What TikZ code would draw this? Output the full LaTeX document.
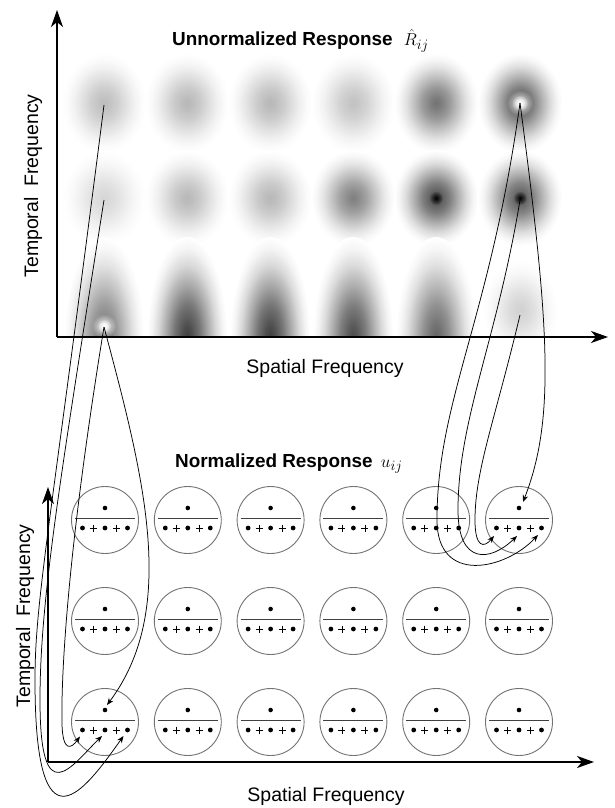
\documentclass[tikz,border=0pt]{standalone}
\usepackage{fontspec}
\setmainfont{Liberation Sans}
\usetikzlibrary{arrows.meta,calc,fadings}

\colorlet{blobc}{black}
\pgfdeclareradialshading[blobc]{blob}{\pgfpoint{0bp}{0bp}}{%
 color(0bp)=(blobc);
 color(3bp)=(blobc!92!white);
 color(8bp)=(blobc!72!white);
 color(13bp)=(blobc!45!white);
 color(18bp)=(blobc!20!white);
 color(22bp)=(blobc!6!white);
 color(25bp)=(white);
 color(50bp)=(white)}
\tikzfading[name=glowfade, inner color=transparent!0, outer color=transparent!100]

\newcommand\myblob[5]{\colorlet{blobc}{black!#5}\shade[shading=blob] (#1,#2) ellipse [x radius=#3pt, y radius=#4pt];}

\begin{document}
\begin{tikzpicture}[x=1pt,y=-1pt,
  ucirc/.style={circle, draw=black!55, line width=0.9pt, minimum size=67pt, inner sep=0pt},
  fracline/.style={draw=black!75, line width=1pt},
  plusline/.style={draw=black, line width=0.8pt},
  conn/.style={draw=black, line width=0.75pt, -{Stealth[length=7pt,width=5.5pt]}},
  axisarr/.style={draw=black, line width=1.8pt, -{Stealth[length=17pt,width=12pt,inset=5pt]}},
  titlef/.style={inner sep=0pt, font=\fontsize{18.9}{22}\selectfont\bfseries},
  labf/.style={inner sep=0pt, font=\fontsize{19.5}{23}\selectfont}]
\useasboundingbox (0,0) rectangle (615,808);
\fill[white] (0,0) rectangle (615,808);

% ---- unnormalized responses (blobs)
\myblob{104}{103}{42}{50}{26}
\myblob{187}{103}{42}{50}{28}
\myblob{270}{103}{42}{50}{28}
\myblob{353}{103}{42}{50}{24}
\myblob{436}{103}{42}{50}{55}
\myblob{520}{103}{42}{50}{68}
\myblob{104}{198}{42}{48}{16}
\myblob{187}{198}{42}{48}{28}
\myblob{270}{198}{42}{48}{28}
\myblob{353}{198}{42}{48}{50}
\myblob{436}{198}{42}{48}{70}
\myblob{520}{198}{42}{48}{66}
\begin{scope}
\clip (57,230) rectangle (615,337);
\myblob{104}{337}{40}{100}{55}
\myblob{187}{337}{40}{100}{75}
\myblob{270}{337}{40}{100}{75}
\myblob{353}{337}{40}{100}{70}
\myblob{436}{337}{40}{100}{60}
\myblob{520}{310}{38}{50}{18}
\end{scope}
\fill[white, path fading=glowfade] (104,326) circle (12pt);
\fill[white, path fading=glowfade] (104,326) circle (7pt);
\fill[white, path fading=glowfade] (520,103) circle (13pt);
\fill[white, path fading=glowfade] (520,103) circle (8pt);
\fill[black, path fading=glowfade] (436,198) circle (7pt);
\fill[black, path fading=glowfade] (520,198) circle (7pt);

% ---- axes
\coordinate (o1) at (57,337);
\coordinate (ytop1) at (57,10);
\coordinate (xend1) at (608,337);
\coordinate (o2) at (48,762);
\coordinate (ytop2) at (48,487);
\coordinate (xend2) at (594,762);
\draw[axisarr] (o1) -- (ytop1);
\draw[axisarr] (o1) -- (xend1);
\draw[axisarr] (o2) -- (ytop2);
\draw[axisarr] (o2) -- (xend2);

% ---- labels
\node[titlef, anchor=base west] (t1) at (172,46) {Unnormalized Response\hspace{6pt} \mdseries$\hat{R}_{ij}$};
\node[titlef, anchor=base west] (t2) at (175,467) {Normalized Response\hspace{3pt} \mdseries$u_{ij}$};
\node[labf, anchor=base] (sx1) at (325,373) {Spatial Frequency};
\node[labf, anchor=base] (sx2) at (326,801) {Spatial Frequency};
\node[labf, anchor=base, rotate=90] (ty1) at (38,186) {Temporal~~Frequency};
\node[labf, anchor=base, rotate=90] (ty2) at (30,616) {Temporal~~Frequency};

% ---- normalized responses (circles)
\foreach \r/\yy in {1/722,2/621,3/520}{
 \foreach \c/\xx in {1/105,2/187.8,3/270.6,4/353.4,5/436.2,6/519}{
  \node[ucirc] (u\r\c) at (\xx,\yy) {};
  \fill ($(u\r\c)+(0,-12)$) circle (2.3pt);
  \draw[fracline] ($(u\r\c)+(-30,-1.5)$) -- ($(u\r\c)+(30,-1.5)$);
  \foreach \dx in {-22.5,0,22.5}{\fill ($(u\r\c)+(\dx,8)$) circle (2.4pt);}
  \foreach \dx in {-11.5,11.5}{\draw[plusline] ($(u\r\c)+(\dx-3.5,8)$) -- ($(u\r\c)+(\dx+3.5,8)$) ($(u\r\c)+(\dx,4.5)$) -- ($(u\r\c)+(\dx,11.5)$);}
 }}

% ---- connector end points
\coordinate (b31) at (104,105);
\coordinate (b21) at (104,200);
\coordinate (b11) at (104,327);
\coordinate (b36) at (520,103);
\coordinate (b26) at (520,200);
\coordinate (b16) at (520,315);
\coordinate (n11) at ($(u11)+(2,-17)$);
\coordinate (d11a) at ($(u11)+(-25,14.5)$);
\coordinate (d11b) at ($(u11)+(-3,14)$);
\coordinate (d11c) at ($(u11)+(18.5,14)$);
\coordinate (n36) at ($(u36)+(4,-18)$);
\coordinate (d36a) at ($(u36)+(-25,16)$);
\coordinate (d36b) at ($(u36)+(-2,16)$);
\coordinate (d36c) at ($(u36)+(19,15)$);

% ---- connectors, left group
\draw[conn] (b11) .. controls (145,480) and (178,610) .. (n11);
\draw[conn] (b11) .. controls (66,560) and (61,680) .. (62,725) .. controls (63,752) and (71,749) .. (d11a);
\draw[conn] (b21) .. controls (60,480) and (40,600) .. (40,700) .. controls (40,815) and (72,765) .. (d11b);
\draw[conn] (b31) .. controls (50,530) and (35,600) .. (35,680) .. controls (35,860) and (85,790) .. (d11c);
% ---- connectors, right group
\draw[conn] (b36) .. controls (550,330) and (555,420) .. (n36);
\draw[conn] (b36) .. controls (490,320) and (437,400) .. (437,520) .. controls (437,585) and (505,570) .. (d36c);
\draw[conn] (b26) .. controls (497,340) and (458,420) .. (458,510) .. controls (458,565) and (490,562) .. (d36b);
\draw[conn] (b16) .. controls (495,420) and (475,470) .. (475,520) .. controls (475,548) and (484,548) .. (d36a);
\end{tikzpicture}
\end{document}
